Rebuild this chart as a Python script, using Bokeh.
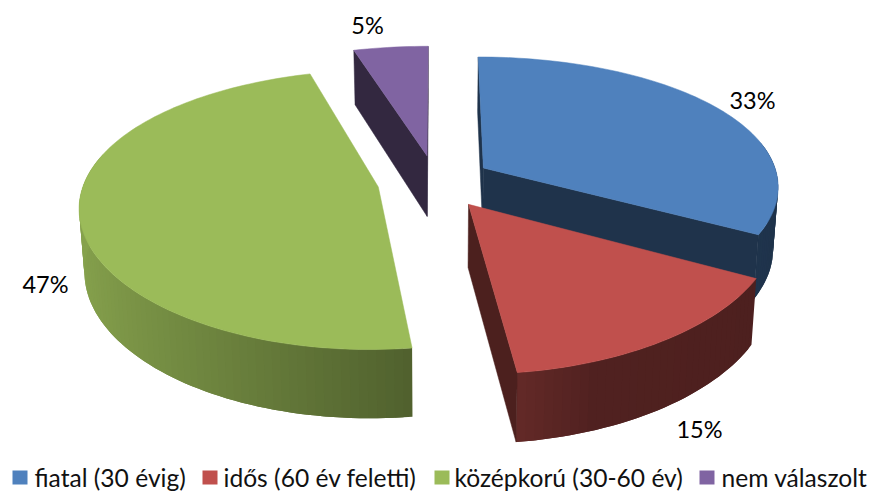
import numpy as np
from bokeh.plotting import figure
from bokeh.models import Range1d
from bokeh.core.properties import value
from bokeh.embed import file_html
from bokeh.resources import INLINE

categories = ["fiatal (30 évig)", "idős (60 év feletti)", "középkorú (30-60 év)", "nem válaszolt"]
shares = [33, 15, 47.4, 4.6]
colors = ["#4f81bd", "#c0504d", "#9bbb59", "#8064a2"]
label_pos = [(752, 99), (699, 428), (45, 283), (367, 24)]
legend_swatch_x = [12, 202, 434, 699]
legend_text_x = [34, 223, 454, 721]

FONT = "Lato"
CX, CY, R, A = 437.0, 181.0, 300.0, 134.5
PX, PY = 0.13, 0.16
EX, EY = 0.18, 0.20
D, DP, M = 62.0, 0.105, 0.985
radius_scale = [0.985, 1.0, 1.0, 1.0]
width_scale = [1.0, 0.995, 0.98, 1.0]
shift_x = [0.0, 0.0, -0.02, -0.01]


def project(X, Y, bottom=False):
    X, Y = np.asarray(X, float), np.asarray(Y, float)
    x = R * X / (1 - PX * Y)
    y = CY + A * Y / (1 - PY * Y)
    if bottom:
        x = x * M
        y = y + D * (1 + DP * Y)
    return CX + x, y


def mix(hex_color, f):
    r, g, b = (int(hex_color[i:i + 2], 16) for i in (1, 3, 5))
    return "#%02x%02x%02x" % (int(r * f), int(g * f), int(b * f))


def shade(nx):
    return float(np.interp(nx, [-1, 0.125, 0.35, 1], [0.87, 0.52, 0.42, 0.40]))


p = figure(width=871, height=491, output_backend="svg", toolbar_location=None,
           x_range=Range1d(0, 871), y_range=Range1d(491, 0),
           min_border=0, outline_line_color=None, margin=0)
p.axis.visible = False
p.grid.visible = False
p.background_fill_color = "#ffffff"
p.border_fill_color = "#ffffff"

total = float(sum(shares))
edges = np.concatenate([[0], np.cumsum(shares)]) / total * 2 * np.pi
slices = [(i, edges[i], edges[i + 1]) for i in range(len(shares))]

VIEW = 6.0
for i, t0, t1 in [slices[3], slices[0], slices[2], slices[1]]:
    col = colors[i]
    rs, ws = radius_scale[i], width_scale[i]
    mid = (t0 + t1) / 2
    ox, oy = EX * np.sin(mid) + shift_x[i], -EY * np.cos(mid)
    n = max(8, int((t1 - t0) / np.radians(1.5)))
    th = np.linspace(t0, t1, n + 1)
    rx, ry = ox + rs * ws * np.sin(th), oy - rs * np.cos(th)

    xs, ys, cs = [], [], []
    # outer wall, strip by strip; each strip runs under the next so no seams show
    tx, ty = project(rx, ry)
    bx, by = project(rx, ry, True)
    for k in range(n):
        if -np.cos(th[k]) < -0.2 and -np.cos(th[k + 1]) < -0.2:
            continue
        j = min(k + 2, n)
        xs.append([tx[m] for m in range(k, j + 1)] + [bx[m] for m in range(j, k - 1, -1)])
        ys.append([ty[m] for m in range(k, j + 1)] + [by[m] for m in range(j, k - 1, -1)])
        cs.append(mix(col, shade(np.sin((th[k] + th[k + 1]) / 2))))
    if xs:
        p.patches(xs, ys, fill_color=cs, line_color=None)

    # cut faces that turn towards the viewer
    for t, sgn in ((t0, -1), (t1, 1)):
        nt = t + sgn * np.pi / 2
        nx, ny = np.sin(nt), -np.cos(nt)
        if ox * nx + (oy - VIEW) * ny < 0:
            ex, ey = ox + rs * ws * np.sin(t), oy - rs * np.cos(t)
            a, b = project([ox, ex], [oy, ey])
            c, d = project([ox, ex], [oy, ey], True)
            fc = mix(col, 0.40)
            p.patch([a[0], a[1], c[1], c[0]], [b[0], b[1], d[1], d[0]],
                    fill_color=fc, line_color=fc, line_width=0.5)

    # top
    apx, apy = project([ox], [oy])
    p.patch(np.concatenate([apx, tx]), np.concatenate([apy, ty]),
            fill_color=col, line_color=col, line_width=0.5)

p.text([q[0] for q in label_pos], [q[1] for q in label_pos],
       text=["%.0f%%" % v for v in shares], text_align="center", text_baseline="middle",
       text_font=value(FONT), text_font_size="23.5px", text_color="#000000")

p.quad(left=legend_swatch_x, right=[x + 15 for x in legend_swatch_x],
       top=[470] * 4, bottom=[484] * 4, fill_color=colors, line_color=None)
p.text(legend_text_x, [476.5] * 4, text=categories, text_align="left", text_baseline="middle",
       text_font=value(FONT), text_font_size="24.6px", text_color="#111111")

open("out.html", "w").write(file_html(p, INLINE))
